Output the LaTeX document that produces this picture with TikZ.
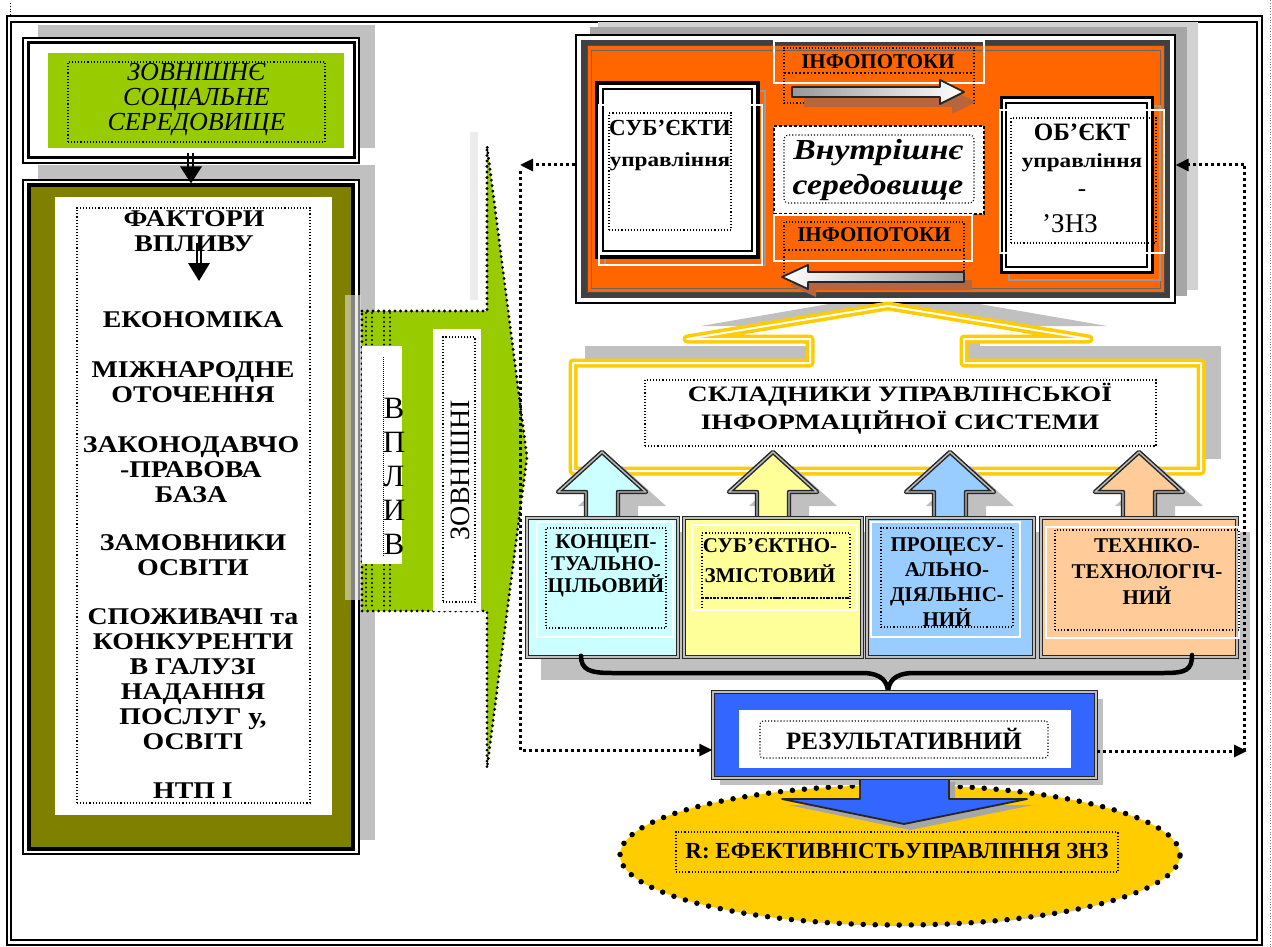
\documentclass[tikz,border=0pt]{standalone}
\usepackage{fontspec}
\setmainfont{Liberation Serif}
\newfontfamily\wideA[FakeStretch=1.16]{Liberation Serif}
\newfontfamily\wideB[FakeStretch=1.25]{Liberation Serif}
\usetikzlibrary{arrows.meta,shapes.geometric,calc}
\definecolor{lime}{HTML}{99CC00}
\definecolor{olivebox}{HTML}{808000}
\definecolor{orng}{HTML}{FF6600}
\definecolor{gold}{HTML}{FFCC00}
\definecolor{cyanb}{HTML}{CCFFFF}
\definecolor{yelb}{HTML}{FFFF99}
\definecolor{blueb}{HTML}{99CCFF}
\definecolor{peach}{HTML}{FFCC99}
\definecolor{resblue}{HTML}{3366FF}
\definecolor{shadowg}{HTML}{C0C0C0}
\definecolor{arrsh}{HTML}{B8643C}
\newcommand{\setfs}[1]{\fontsize{#1}{#1}\selectfont}
\begin{document}
\begin{tikzpicture}[x=1pt,y=-1pt,
  dotbox/.style={draw=black, dotted, line width=1.1pt, inner sep=0pt},
  lbl/.style={inner sep=0pt, align=center, text=black},
  fb/.style={line width=3pt, dash pattern=on 3pt off 3pt, -{Triangle[length=13pt,width=12pt]}},
  fbline/.style={line width=3pt, dash pattern=on 3pt off 3pt},
  dblframe/.style={draw=black!85, double=gray!50, double distance=1.4pt, line width=1.5pt},
  facttxt/.style={lbl, font=\wideA\bfseries\fontsize{24}{25}\selectfont},
  boxtxt/.style={lbl, font=\bfseries\fontsize{21}{#1}\selectfont},
  infotxt/.style={lbl, font=\bfseries\setfs{21}},
]
\useasboundingbox (0,0) rectangle (1272,947);
\fill[white] (0,0) rectangle (1272,947);

% ---------- outer frame
\draw[line width=2.2pt] (7,16) rectangle (1262,945);
\draw[line width=1.2pt] (11,22) rectangle (1257,940);
\draw[gray, dotted, line width=0.8pt] (1270,0) -- (1270,947);
\draw[dotted, line width=0.8pt] (10,3) -- (10,15);

% ---------- external social environment
\fill[shadowg] (38,25) rectangle (375,148);
\node[draw=black, line width=1.2pt, fill=white, minimum width=336pt, minimum height=125pt, inner sep=0pt] (extframe) at (191,100.5) {};
\draw[line width=3pt] (28,43) rectangle (354,158);
\fill[lime] (48,53) rectangle (344,148);
\node[dotbox, minimum width=257pt, minimum height=80pt] (ext) at (196.5,102) {};
\node[lbl, font=\itshape\fontsize{26}{25}\selectfont] (extT) at (196.5,100) {ЗОВНІШНЄ\\СОЦІАЛЬНЕ\\СЕРЕДОВИЩЕ};

% ---------- factors
\fill[shadowg] (38,165) rectangle (375,840);
\node[draw=black, line width=1.2pt, fill=white, minimum width=336pt, minimum height=674pt, inner sep=0pt] (factframe) at (191,517) {};
\draw[line width=3.5pt, fill=olivebox] (29,185) rectangle (353,849);
\fill[white] (55,197) rectangle (332,815);
\node[dotbox, minimum width=233pt, minimum height=595pt] (fact) at (193.5,505.5) {};

% double arrow ext -> factors
\draw[line width=1.4pt] ($(extframe.south)+(-3,-11)$) -- ($(extframe.south)+(-3,5)$);
\draw[line width=1.4pt] ($(extframe.south)+(2,-11)$) -- ($(extframe.south)+(2,5)$);
\fill ($(factframe.north)+(-11,-13)$) -- ($(factframe.north)+(11,-13)$) -- ($(factframe.north)+(0,4)$) -- cycle;

\node[facttxt] (fv) at (194,231) {ФАКТОРИ\\ВПЛИВУ};
\draw[line width=1.3pt] ($(fv.center)+(3,12)$) -- ($(fv.center)+(3,33)$);
\draw[line width=1.3pt] ($(fv.center)+(7,12)$) -- ($(fv.center)+(7,33)$);
\fill ($(fv.center)+(-6,32)$) -- ($(fv.center)+(16,32)$) -- ($(fv.center)+(5,50)$) -- cycle;

\node[facttxt] (f1) at (193,320) {ЕКОНОМІКА};
\node[facttxt] (f2) at (193,382.5) {МІЖНАРОДНЕ\\ОТОЧЕННЯ};
\node[facttxt] (f3) at (191,469.5) {ЗАКОНОДАВЧО\\-ПРАВОВА\\БАЗА};
\node[facttxt] (f4) at (193,555) {ЗАМОВНИКИ\\ОСВІТИ};
\node[facttxt] (f5) at (193,679.5) {СПОЖИВАЧІ та\\КОНКУРЕНТИ\\В ГАЛУЗІ\\НАДАННЯ\\ПОСЛУГ у,\\ОСВІТІ};
\node[facttxt] (f6) at (193,791) {НТП І};

% ---------- big green arrow (external influences)
\fill[gray!15] (470,132) rectangle (478,300);
\fill[gray!25, opacity=0.6] (345,295) rectangle (361,600);
\path[fill=lime, draw=black, line width=3.2pt, dash pattern=on 0pt off 5.5pt, line cap=round] (362,311) -- (487,311) -- (487,146) -- (527,457) -- (487,768) -- (487,611) -- (362,611) -- cycle;
\foreach \x in {366,372,384,390} \draw[line width=2.2pt, dash pattern=on 0pt off 4.5pt, line cap=round] (\x,313) -- (\x,609);
\node[fill=white, minimum width=40pt, minimum height=218pt, inner sep=0pt] (vplbox) at (382,455) {};
\draw[densely dotted, line width=1pt] (383,357) -- (383,557);
\node[lbl, font=\fontsize{31}{34}\selectfont] (vpl) at (394,476) {В\\П\\Л\\И\\В};
\node[fill=white, minimum width=48pt, minimum height=282pt, inner sep=0pt] (zovnbox) at (457,470) {};
\node[dotbox, minimum width=32pt, minimum height=265pt] (zovnD) at (459,469.5) {};
\node[lbl, rotate=90, font=\setfs{28}] (zovn) at (460,470) {ЗОВНІШНІ};

% ---------- shadow of the yellow block
\fill[shadowg] (585,346) rectangle (1221,459);
\fill[shadowg] (701,326) -- (904,291) -- (1107,326) -- cycle;
\fill[shadowg] (826,320) rectangle (980,350);

% ---------- management block (orange)
\fill[gray!35] (598,22) rectangle (1198,290);
\fill[gray!70] (590,27) rectangle (1187,296);
\node[draw=black, line width=1.2pt, fill=white, minimum width=599pt, minimum height=268pt, inner sep=0pt] (mgmt) at (875.5,169) {};
\fill[black!75] (581,40) rectangle (1170,298);
\draw[draw=black!70, line width=1pt, fill=orng] (587,46) rectangle (1164,292);
\draw[black!60, line width=0.8pt] (591,50) rectangle (1160,288);

% subjects
\draw[gray!80, line width=1.4pt] (605,91) rectangle (765,265);
\node[draw=black, line width=3.5pt, fill=white, minimum width=161pt, minimum height=174pt, inner sep=0pt] (subj) at (677.5,170) {};
\draw[line width=1.2pt] (603,89) rectangle (752,251);
\draw[white, line width=1.4pt] (599,105) rectangle (762,265);
\node[dotbox, minimum width=122pt, minimum height=117pt] (subjD) at (670,171.5) {};
\node[lbl, font=\bfseries\setfs{23}] (subjT) at (670,128) {СУБ’ЄКТИ};
\node[lbl, font=\wideA\bfseries\setfs{20}] (subjU) at (670,162) {управління};

% object
\draw[gray!80, line width=1.4pt] (1009,106) rectangle (1160,280);
\node[draw=black, line width=3pt, fill=white, minimum width=151pt, minimum height=174pt, inner sep=0pt] (obj) at (1076.5,185) {};
\draw[line width=1.2pt] (1006,103) rectangle (1147,267);
\draw[white, line width=1.4pt] (1000,110) rectangle (1164,253);
\node[dotbox, minimum width=145pt, minimum height=125pt] (objD) at (1083.5,180.5) {};
\node[lbl, font=\bfseries\setfs{25}] (objT) at (1082,132) {ОБ’ЄКТ};
\node[lbl, font=\wideA\bfseries\setfs{20}] (objU) at (1082,163) {управління};
\node[lbl, font=\setfs{25}] (objM) at (1082,193) {-};
\node[lbl, font=\setfs{27}] (objZ) at (1070,224) {’ЗНЗ};

% info flows top
\draw[white, line width=1.6pt] (774,41) rectangle (984,83);
\node[dotbox, minimum width=190pt, minimum height=55pt] (infoTopD) at (879,75.5) {};
\draw[dotted, line width=1.8pt] (784,73) -- (974,73);
\node[infotxt] (infoTop) at (878,62) {ІНФОПОТОКИ};
\path[fill=arrsh] (804,97) -- (952,97) -- (952,90) -- (976,102) -- (952,114) -- (952,107) -- (804,107) -- cycle;
\path[left color=gray!80, right color=white, draw=black!85, line width=1.8pt, line join=round] (792,87) -- (940,87) -- (940,80) -- (964,92) -- (940,104) -- (940,97) -- (792,97) -- cycle;

% internal environment
\node[draw=black, line width=2.6pt, dash pattern=on 2.6pt off 2.4pt, fill=white, minimum width=210pt, minimum height=88pt, inner sep=0pt] (env) at (879,170) {};
\node[dotbox, rounded corners=4pt, minimum width=190pt, minimum height=68pt] (envD) at (879,169) {};
\node[lbl, font=\wideA\bfseries\itshape\fontsize{29}{35}\selectfont] (envT) at (878,170) {Внутрішнє\\середовище};

% info flows bottom
\draw[white, line width=1.6pt] (774,215) rectangle (972,261);
\node[dotbox, minimum width=180pt, minimum height=55pt] (infoBotD) at (874,249.5) {};
\draw[dotted, line width=1.8pt] (784,250) -- (964,250);
\node[infotxt] (infoBot) at (874,235) {ІНФОПОТОКИ};
\path[fill=arrsh] (972,280) -- (816,280) -- (816,273) -- (790,285) -- (816,297) -- (816,290) -- (972,290) -- cycle;
\path[left color=white, right color=gray!80, draw=black!85, line width=1.8pt, line join=round] (964,272) -- (808,272) -- (808,265) -- (782,277) -- (808,289) -- (808,282) -- (964,282) -- cycle;

% ---------- components block (yellow outline with up arrow)
\path[fill=white, draw=gold, line width=3.5pt, double=white, double distance=2pt, line join=round] (573,363) -- (810,363) -- (810,339) -- (687,339) -- (888,306) -- (1089,339) -- (964,339) -- (964,363) -- (1201,363) -- (1201,471) -- (573,471) -- cycle;
\node[dotbox, minimum width=511pt, minimum height=66pt] (skl) at (900.5,413) {};
\node[lbl, font=\wideB\bfseries\fontsize{22}{28}\selectfont] (sklT) at (900,409) {СКЛАДНИКИ УПРАВЛІНСЬКОЇ\\ІНФОРМАЦІЙНОЇ СИСТЕМИ};

% ---------- four components
\fill[shadowg] (541,532) rectangle (1250,680);
\foreach \cx in {602,773,950,1139}
  \fill[shadowg] (\cx+4,534) -- (\cx+4,506) -- (\cx-24,506) -- (\cx+20,466) -- (\cx+64,506) -- (\cx+36,506) -- (\cx+36,534) -- cycle;
\foreach \cx/\col in {602/cyanb,773/yelb,950/blueb,1139/peach}
  \path[fill=\col, dblframe, line join=round] (\cx-16,524) -- (\cx-16,492) -- (\cx-44,492) -- (\cx,452) -- (\cx+44,492) -- (\cx+16,492) -- (\cx+16,524);

\node[fill=cyanb, dblframe, minimum width=151pt, minimum height=139pt, inner sep=0pt] (c1) at (602.5,587.5) {};
\node[fill=yelb, dblframe, minimum width=178pt, minimum height=139pt, inner sep=0pt] (c2) at (773,587.5) {};
\node[fill=blueb, dblframe, minimum width=167pt, minimum height=139pt, inner sep=0pt] (c3) at (950.5,587.5) {};
\node[fill=peach, dblframe, minimum width=196pt, minimum height=139pt, inner sep=0pt] (c4) at (1139,587.5) {};

\draw[white, line width=1.4pt] (537,522) rectangle (673,637);
\node[dotbox, minimum width=120pt, minimum height=100pt] (c1D) at (606,578) {};
\node[boxtxt=22] (c1T) at (606,566) {КОНЦЕП-\\ТУАЛЬНО-\\ЦІЛЬОВИЙ};

\draw[white, line width=1.4pt] (692,525) rectangle (857,610);
\node[dotbox, minimum width=148pt, minimum height=65pt] (c2D) at (776,565.5) {};
\draw[dotted, line width=1.8pt] (702,598) -- (850,598);
\draw[dotted, line width=1.1pt] (702,598) -- (702,610) (850,598) -- (850,610);
\node[boxtxt=30] (c2T) at (770,561) {СУБ’ЄКТНО-\\ЗМІСТОВИЙ};

\draw[white, line width=1.4pt] (871,522) rectangle (1020,637);
\node[dotbox, minimum width=132pt, minimum height=99pt] (c3D) at (947,577.5) {};
\node[boxtxt=25] (c3T) at (947,582) {ПРОЦЕСУ-\\АЛЬНО-\\ДІЯЛЬНІС-\\НИЙ};

\draw[white, line width=1.4pt] (1046,527) rectangle (1239,638);
\node[dotbox, minimum width=184pt, minimum height=100pt] (c4D) at (1147,580) {};
\node[boxtxt=26] (c4T) at (1147,572) {ТЕХНІКО-\\ТЕХНОЛОГІЧ-\\НИЙ};

% brace
\draw[line width=4.5pt, line cap=round] (c1.south -| 581,0) ++(0,-2) .. controls (581,670) and (590,673) .. (612,673) -- (862,673) .. controls (882,673) and (888,682) .. (888,693) .. controls (888,682) and (894,673) .. (914,673) -- (1164,673) .. controls (1186,673) and (1192,670) .. (1192,655);

% ---------- goal ellipse
\fill[shadowg] (905,868) ellipse [x radius=250pt, y radius=58pt];
\node[ellipse, fill=gold, draw=black, line width=5.5pt, dash pattern=on 0pt off 12pt, line cap=round, minimum width=560pt, minimum height=140pt, inner sep=0pt] (goal) at (900,855) {};
\node[dotbox, minimum width=442pt, minimum height=40pt] (goalD) at (897,852) {};
\node[lbl, font=\bfseries\setfs{23}] (goalT) at (897,851) {R: ЕФЕКТИВНІСТЬУПРАВЛІННЯ ЗНЗ};

% ---------- result box with arrow
\fill[shadowg] (720,699) rectangle (1103,785);
\path[fill=gray!70] (866,782) -- (866,805) -- (788,805) -- (910,830) -- (1033,805) -- (955,805) -- (955,782) -- cycle;
\path[fill=resblue, draw=black!85, line width=1.8pt, line join=round] (860,776) -- (860,799) -- (782,799) -- (904,824) -- (1027,799) -- (949,799) -- (949,776);
\node[fill=resblue, dblframe, minimum width=383pt, minimum height=86pt, inner sep=0pt] (res) at (904.5,735) {};
\fill[white] (739,710) rectangle (1071,768);
\node[dotbox, rounded corners=3pt, minimum width=288pt, minimum height=37pt] (resD) at (904,739.5) {};
\node[lbl, font=\bfseries\setfs{25}] (resT) at (904,739) {РЕЗУЛЬТАТИВНИЙ};

% ---------- feedback dotted connectors
\coordinate (fbTL) at (520,165);
\coordinate (fbBL) at (520,750);
\coordinate (fbTR) at (1244,165);
\coordinate (fbBR) at (1244,751);
\draw[fb] (mgmt.west |- fbTL) -- (fbTL);
\draw[fb] ($(fbTL)+(0,6)$) |- (res.west |- fbBL);
\draw[fb] (res.east |- fbBR) -- ($(fbBR)+(3,0)$);
\draw[fbline] (fbBR) -- (fbTR);
\draw[fb] (fbTR) -- (mgmt.east |- fbTR);
\end{tikzpicture}
\end{document}
